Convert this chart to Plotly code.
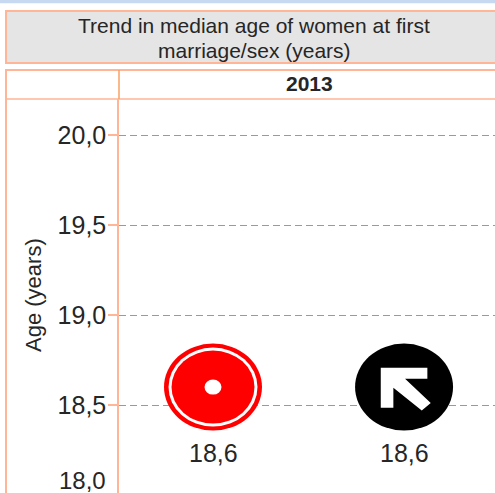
import plotly.graph_objects as go

# Data
title_lines = ["Trend in median age of women at first", "marriage/sex (years)"]
year_label = "2013"
axis_label = "Age (years)"
groups = [0, 1]
values = [18.6, 18.6]
value_labels = ["18,6", "18,6"]
tick_vals = [18.5, 19.0, 19.5, 20.0]
tick_text = ["18,5", "19,0", "19,5", "20,0"]
bottom_tick_label = "18,0"

W, H = 495, 493
L, T = 119, 99
BORDER = "#ffb596"
BORDER_DARK = "#f7a263"
TEXT = "#262626"
FONT = "Liberation Sans, Arial, sans-serif"


def px(x):
    return (x - L) / (W - L)


def py(y):
    return 1 - (y - T) / (H - T)


def frame(x0, y0, x1, y1, **kw):
    return dict(type="rect", xref="paper", yref="paper", x0=px(x0), x1=px(x1),
                y0=py(y0), y1=py(y1), layer="below", **kw)


def ellipse(group, value, rx, ry, color):
    return dict(type="circle", xref="x", yref="y", xsizemode="pixel", ysizemode="pixel",
                xanchor=group, yanchor=value, x0=-rx, x1=rx, y0=-ry, y1=ry,
                fillcolor=color, line_width=0, layer="above")


shapes = [
    frame(0, 0, 495, 3.2, fillcolor="#c6d9f0", line_width=0),
    frame(6, 11, 497, 63, fillcolor="#e5e5e5", line=dict(color=BORDER, width=2)),
    frame(6, 70, 497, 499, fillcolor="white", line=dict(color=BORDER, width=2)),
    dict(type="line", xref="paper", yref="paper", x0=px(6), x1=px(495), y0=py(99), y1=py(99),
         line=dict(color=BORDER, width=1.5), layer="below"),
    dict(type="line", xref="paper", yref="paper", x0=px(119), x1=px(119), y0=py(70), y1=py(99),
         line=dict(color=BORDER_DARK, width=1.5), layer="below"),
]

# Red "target" symbol
shapes += [
    ellipse(groups[0], values[0], 49, 43.5, "#ff0000"),
    ellipse(groups[0], values[0], 44.5, 39.5, "#ffffff"),
    ellipse(groups[0], values[0], 41.5, 36.5, "#ff0000"),
    ellipse(groups[0], values[0], 8.5, 7.5, "#ffffff"),
]
# Black symbol with white north-west arrow
arrow = [(-23.3, 19.3), (23.3, 19.3), (23.3, 8.3), (1, 8.3), (26.7, -16), (17.7, -23.3),
         (-10.7, -0.7), (-10.7, -20.7), (-23.3, -20.7)]
shapes += [
    ellipse(groups[1], values[1], 49, 43.5, "#000000"),
    dict(type="path", xref="x", yref="y", xsizemode="pixel", ysizemode="pixel",
         xanchor=groups[1], yanchor=values[1],
         path="M" + " L".join(f"{a},{b}" for a, b in arrow) + " Z",
         fillcolor="#ffffff", line_width=0, layer="above"),
]

fig = go.Figure(go.Scatter(
    x=groups, y=values, mode="markers",
    marker=dict(size=1, color="rgba(0,0,0,0)"),
    hoverinfo="skip", showlegend=False,
))

annotations = [
    dict(text=title_lines[0], xref="paper", yref="paper", x=px(254), y=py(25), showarrow=False,
         xanchor="center", yanchor="middle", font=dict(family=FONT, size=21, color=TEXT)),
    dict(text=title_lines[1], xref="paper", yref="paper", x=px(254), y=py(50), showarrow=False,
         xanchor="center", yanchor="middle", font=dict(family=FONT, size=21, color=TEXT)),
    dict(text=f"<b>{year_label}</b>", xref="paper", yref="paper", x=px(309), y=py(83), showarrow=False,
         xanchor="center", yanchor="middle", font=dict(family=FONT, size=21, color=TEXT)),
    dict(text=axis_label, xref="paper", yref="paper", x=px(33), y=py(295), showarrow=False,
         textangle=-90, xanchor="center", yanchor="middle", font=dict(family=FONT, size=22, color=TEXT)),
    dict(text=bottom_tick_label, xref="paper", yref="paper", x=px(108), y=py(480), showarrow=False,
         xanchor="right", yanchor="middle", font=dict(family=FONT, size=24, color=TEXT)),
]
for g, v, label in zip(groups, values, value_labels):
    annotations.append(dict(text=label, x=g, y=v, xref="x", yref="y", showarrow=False,
                            xanchor="center", yanchor="middle", yshift=-66,
                            font=dict(family=FONT, size=25, color=TEXT)))

fig.update_layout(
    width=W, height=H, autosize=False,
    margin=dict(l=L, r=0, t=T, b=0, pad=0),
    paper_bgcolor="white", plot_bgcolor="rgba(0,0,0,0)",
    shapes=shapes, annotations=annotations, showlegend=False,
    xaxis=dict(range=[-0.492, 1.476], visible=False, fixedrange=True),
    yaxis=dict(range=[18.012, 20.2], tickvals=tick_vals, ticktext=tick_text,
               tickfont=dict(family=FONT, size=25, color=TEXT), ticklabelstandoff=-3,
               ticks="outside", ticklen=9, tickwidth=1.5, tickcolor=BORDER,
               showgrid=True, gridcolor="#9a9a9a", gridwidth=1, griddash="7px,4px",
               showline=True, linecolor=BORDER, linewidth=1.5,
               zeroline=False, fixedrange=True),
)

fig.write_html("out.html", config={"displayModeBar": False},
               post_script="document.body.style.margin='0';document.body.style.overflow='hidden';")
